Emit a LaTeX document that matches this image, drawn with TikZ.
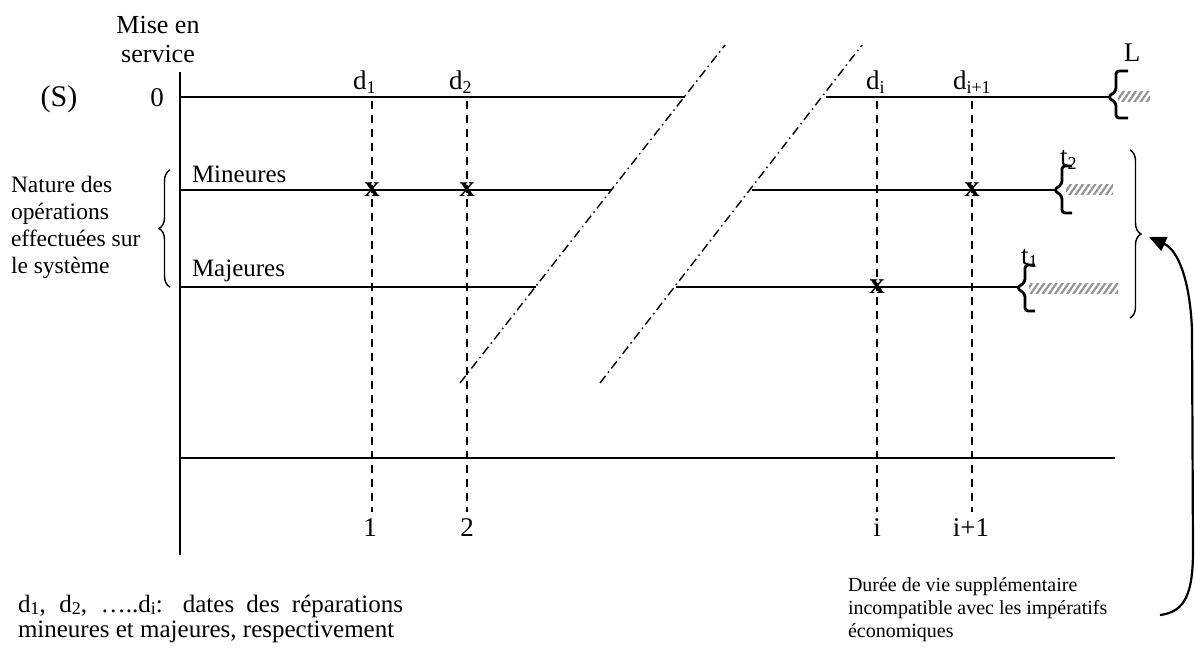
\documentclass[tikz,border=0pt]{standalone}
\usepackage{fontspec}
\setmainfont{Liberation Serif}
\usetikzlibrary{decorations.pathreplacing,patterns.meta,arrows.meta}
\newcommand\sbx[1]{\raisebox{-0.25ex}{\fontsize{18}{18}\selectfont #1}}
\begin{document}
\begin{tikzpicture}[x=1pt,y=-1pt,
  every node/.style={inner sep=0pt,outer sep=0pt},
  lbl/.style={font=\fontsize{27}{29}\selectfont},
  axis/.style={line width=1.7pt},
  brk/.style={line width=1.4pt,dash pattern=on 9pt off 4pt on 1.5pt off 4pt},
  vdash/.style={line width=1.4pt,dash pattern=on 8pt off 6pt},
  xmark/.style={font=\fontsize{30}{30}\bfseries\selectfont},
  smallbrace/.style={line width=2.8pt,rounded corners=3pt},
  hatch/.style={pattern={Lines[angle=55,distance=5pt,line width=2.2pt]},pattern color=gray!85},
  bigbrace/.style={line width=1.4pt,decorate,decoration={brace,amplitude=11pt}}]
\useasboundingbox (0,0) rectangle (1195,650);

% axis
\coordinate (ax0) at (180,72);
\coordinate (ax1) at (180,555);
\draw[axis] (ax0) -- (ax1);

% horizontal lines
\coordinate (s0) at (180,97);   \coordinate (s1) at (685,97);
\coordinate (s2) at (826,97);   \coordinate (s3) at (1110,97);
\coordinate (m0) at (180,190);  \coordinate (m1) at (611,190);
\coordinate (m2) at (752,190);  \coordinate (m3) at (1056,190);
\coordinate (j0) at (180,287);  \coordinate (j1) at (536,287);
\coordinate (j2) at (676,287);  \coordinate (j3) at (1019,287);
\coordinate (b0) at (180,458);  \coordinate (b1) at (1115,458);
\draw[axis] (s0) -- (s1) (s2) -- (s3);
\draw[axis] (m0) -- (m1) (m2) -- (m3);
\draw[axis] (j0) -- (j1) (j2) -- (j3);
\draw[axis] (b0) -- (b1);

% break lines
\coordinate (k1a) at (460,383); \coordinate (k1b) at (725,45);
\coordinate (k2a) at (600,383); \coordinate (k2b) at (862,45);
\draw[brk] (k1a) -- (k1b);
\draw[brk] (k2a) -- (k2b);

% dashed verticals
\foreach \n/\x in {a/372, b/467, c/877, d/972}{
  \coordinate (va\n) at (\x,101);
  \coordinate (vb\n) at (\x,512);
  \draw[vdash] (va\n) -- (vb\n);
}
% date labels
\node[lbl,anchor=base west] (topa) at (353,90) {d\sbx{1}};
\node[lbl,anchor=base west] (topb) at (449,90) {d\sbx{2}};
\node[lbl,anchor=base west] (topc) at (866,90) {d\sbx{i}};
\node[lbl,anchor=base west] (topd) at (953,90) {d\sbx{i+1}};
\node[lbl,anchor=base] (bota) at (370,536) {1};
\node[lbl,anchor=base] (botb) at (467,536) {2};
\node[lbl,anchor=base] (botc) at (877,536) {i};
\node[lbl,anchor=base] (botd) at (971,536) {i+1};

% x marks
\node[xmark] (x1) at (372,190) {x};
\node[xmark] (x2) at (467,190) {x};
\node[xmark] (x3) at (972,190) {x};
\node[xmark] (x4) at (877,287) {x};

% left labels
\node[font=\fontsize{30}{30}\selectfont,anchor=base] (S) at (59,107) {(S)};
\node[lbl,anchor=base] (zero) at (157,107) {0};
\node[font=\fontsize{26}{29}\selectfont,align=center,anchor=base] (mise) at (158,63) {Mise en\\service};
\node[font=\fontsize{25}{25}\selectfont,anchor=base west] (mineures) at (192,183) {Mineures};
\node[font=\fontsize{25}{25}\selectfont,anchor=base west] (majeures) at (192,276) {Majeures};
\node[font=\fontsize{23.5}{27}\selectfont,align=left,anchor=base west] (nature) at (11,273) {Nature des\\opérations\\effectuées sur\\le système};
\draw[bigbrace] (170,287) -- (170,170);

% right end braces and hatches
\node[lbl,anchor=base] (L) at (1132,62) {L};
\node[lbl,anchor=base west] (t2) at (1060,166) {t\sbx{2}};
\node[lbl,anchor=base west] (t1) at (1021,264) {t\sbx{1}};

\fill[hatch] (1118,92) rectangle (1150,102);
\fill[hatch] (1066,185) rectangle (1113,195);
\fill[hatch] (1029,283) rectangle (1118,293);

\draw[smallbrace] (1128,71) -- (1116,71) -- (1116,91) -- (1108,97) -- (1116,103) -- (1116,118) -- (1128,118);
\draw[smallbrace] (1072,166) -- (1062,166) -- (1062,184) -- (1054,190) -- (1062,196) -- (1062,213) -- (1072,213);
\draw[smallbrace] (1035,265) -- (1025,265) -- (1025,282) -- (1017,288) -- (1025,294) -- (1025,311) -- (1035,311);

% big right brace
\draw[bigbrace] (1130,150) -- (1130,318);
\coordinate (tip) at (1149,237);

% bottom texts
\node[font=\fontsize{25}{25}\selectfont,anchor=base west] (leg1) at (18,612) {\makebox[385pt][s]{d\sbx{1}, d\sbx{2}, …..d\sbx{i}: dates des réparations}};
\node[font=\fontsize{25}{25}\selectfont,anchor=base west] (leg2) at (18,637) {mineures et majeures, respectivement};

\node[font=\fontsize{20}{23}\selectfont,align=left,anchor=base west] (dur) at (848,637) {Durée de vie supplémentaire\\incompatible avec les impératifs\\économiques};
\coordinate (ast) at (1160,615);
\draw[line width=2.2pt,-{Triangle[length=17pt,width=15pt]}] (ast) .. controls (1186,612) and (1193,592) .. (1193,550) -- (1192,330) .. controls (1190,280) and (1178,250) .. (tip);
\end{tikzpicture}
\end{document}
